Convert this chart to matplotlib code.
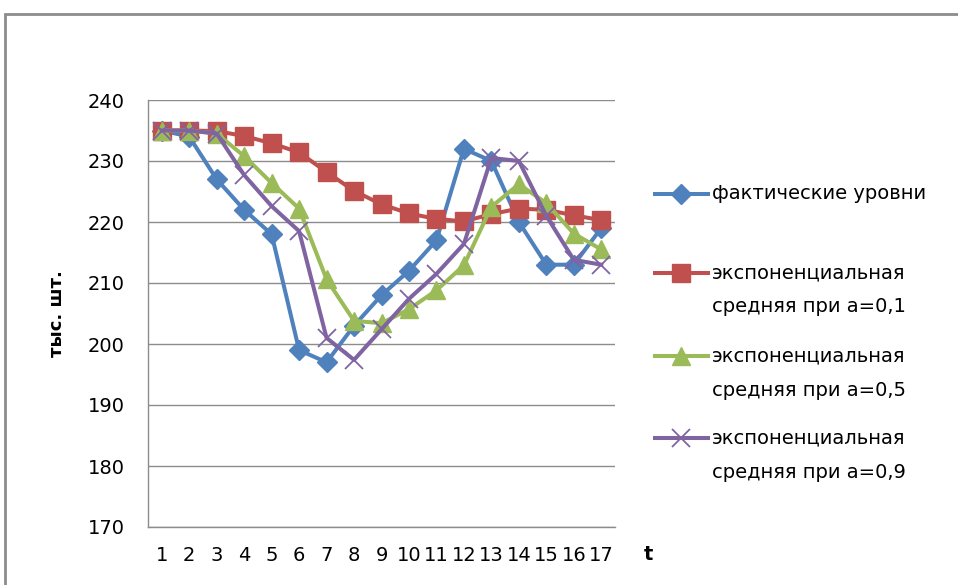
import matplotlib
matplotlib.use("Agg")
import matplotlib.pyplot as plt
from matplotlib.lines import Line2D
from matplotlib.patches import Rectangle

plt.rcParams['font.family'] = ['DejaVu Sans']

# Time periods
t = list(range(1, 18))

# Actual levels and exponential averages (thousand units)
actual = [235, 234, 227, 222, 218, 199, 197, 203, 208, 212, 217, 232, 230, 220, 213, 213, 219]
ema_01 = [235, 235, 234.9, 234.1, 232.9, 231.4, 228.2, 225.1, 222.9, 221.4, 220.5, 220.1, 221.3, 222.2, 222.0, 221.1, 220.3]
ema_05 = [235, 235, 234.5, 230.8, 226.4, 222.2, 210.6, 203.8, 203.4, 205.7, 208.8, 212.9, 222.5, 226.2, 223.1, 218.1, 215.5]
ema_09 = [235, 235, 234.5, 227.7, 222.6, 218.5, 201.0, 197.4, 202.4, 207.4, 211.5, 216.4, 230.5, 230.0, 221.0, 213.8, 213.0]

labels = ["фактические уровни",
          "экспоненциальная\nсредняя при а=0,1",
          "экспоненциальная\nсредняя при а=0,5",
          "экспоненциальная\nсредняя при а=0,9"]

yticks = [170, 180, 190, 200, 210, 220, 230, 240]

FS = 14
LW = 2.9
W, H = 958, 585
fig = plt.figure(figsize=(W / 100, H / 100), dpi=100)

# chart frame
fig.patches.append(Rectangle((5 / W, -0.1), 1.1, (H - 14) / H + 0.1,
                             transform=fig.transFigure, fill=False,
                             edgecolor='#8c8c8c', linewidth=2))

ax = fig.add_axes([148 / W, (H - 527) / H, (615 - 148) / W, (527 - 100) / H])

styles = [
    dict(color='#4F81BD', marker='D', markersize=10.5),
    dict(color='#C0504D', marker='s', markersize=12.5),
    dict(color='#9BBB59', marker='^', markersize=13),
    dict(color='#8064A2', marker='x', markersize=13, markeredgewidth=1.3),
]
series = [actual, ema_01, ema_05, ema_09]

for vals, st in zip(series, styles):
    ax.plot(t, vals, linewidth=LW, **st)

ax.set_xlim(0.5, 17.5)
ax.set_ylim(170, 240)
ax.set_yticks(yticks)
ax.set_xticks(t)
ax.grid(axis='y', color='#8c8c8c', linewidth=1)
ax.set_axisbelow(True)
for side in ['top', 'right']:
    ax.spines[side].set_visible(False)
for side in ['left', 'bottom']:
    ax.spines[side].set_color('#8c8c8c')
    ax.spines[side].set_linewidth(1)
ax.tick_params(axis='both', length=0, labelsize=FS, colors='black')
ax.tick_params(axis='y', pad=17)
ax.tick_params(axis='x', pad=14)

fig.text(57 / W, 1 - 314 / H, "тыс. шт.", rotation=90, fontsize=FS - 1,
         fontweight='bold', ha='center', va='center')
fig.text(648 / W, 1 - 555 / H, "t", fontsize=FS, fontweight='bold',
         ha='center', va='center')

# legend
leg_y = [194, 273, 356, 438]
for y, lab, st in zip(leg_y, labels, styles):
    yf = 1 - y / H
    fig.add_artist(Line2D([655 / W, 681 / W, 708 / W], [yf, yf, yf],
                          transform=fig.transFigure, markevery=[1],
                          linewidth=LW, **st))
    for k, line in enumerate(lab.split('\n')):
        fig.text(712 / W, 1 - (y + 34 * k) / H, line, fontsize=FS,
                 ha='left', va='center')

fig.savefig("out.png", dpi=100)
